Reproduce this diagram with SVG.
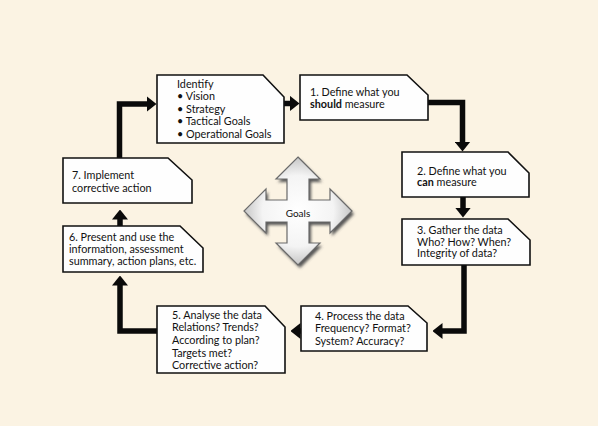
<svg xmlns="http://www.w3.org/2000/svg" width="598" height="426" viewBox="0 0 598 426">
<defs>
<style>
.box{fill:#fefefe;stroke:#111;stroke-width:1.6}
.t{font-family:Lato,"Open Sans",sans-serif;font-size:10.8px;fill:#111}
.b{font-weight:bold}
.con{fill:none;stroke:#0a0a0a;stroke-width:5.5;stroke-linejoin:miter}
</style>
<marker id="ah" viewBox="0 0 10 16" refX="0.5" refY="8" markerWidth="10" markerHeight="16" markerUnits="userSpaceOnUse" orient="auto">
<path d="M0,0 L10,8 L0,16 Z" fill="#0a0a0a"/>
</marker>
<radialGradient id="cg" cx="50%" cy="50%" r="55%">
<stop offset="0" stop-color="#ffffff"/>
<stop offset="0.6" stop-color="#f4f4f4"/>
<stop offset="1" stop-color="#b8b8b8"/>
</radialGradient>
<filter id="sh" x="-20%" y="-20%" width="140%" height="140%">
<feGaussianBlur stdDeviation="1.5"/>
</filter>
</defs>
<rect width="598" height="426" fill="#fbf3e3"/>

<g id="connectors">
<path class="con" d="M119.5,158 V104 H147" marker-end="url(#ah)"/>
<path class="con" d="M284,103.5 H290" marker-end="url(#ah)"/>
<path class="con" d="M428,102.5 H462.5 V142" marker-end="url(#ah)"/>
<path class="con" d="M463,197 V208" marker-end="url(#ah)"/>
<path class="con" d="M464,265 V331 H442" marker-end="url(#ah)"/>
<path class="con" d="M301,331 H300" marker-end="url(#ah)"/>
<path class="con" d="M157,331 H120 V285" marker-end="url(#ah)"/>
<path class="con" d="M120,226 V219" marker-end="url(#ah)"/>
</g>

<g id="goals">
<g transform="translate(298,211)">
<polygon transform="translate(2,3)" filter="url(#sh)" fill="#555" points="0,-54 22,-32 11,-32 11,-11 32,-11 32,-22 54,0 32,22 32,11 11,11 11,32 22,32 0,54 -22,32 -11,32 -11,11 -32,11 -32,22 -54,0 -32,-22 -32,-11 -11,-11 -11,-32 -22,-32"/>
<polygon fill="url(#cg)" stroke="#6a6a6a" stroke-width="1.2" points="0,-54 22,-32 11,-32 11,-11 32,-11 32,-22 54,0 32,22 32,11 11,11 11,32 22,32 0,54 -22,32 -11,32 -11,11 -32,11 -32,22 -54,0 -32,-22 -32,-11 -11,-11 -11,-32 -22,-32"/>
</g>
<text class="t" x="298" y="217" text-anchor="middle" style="font-size:10px">Goals</text>
</g>

<g id="identify">
<path class="box" d="M157,75 H263 L284,97 V143 H157 Z"/>
<text class="t" x="177" y="88">Identify</text>
<text class="t" x="177" y="100">• Vision</text>
<text class="t" x="177" y="112.5">• Strategy</text>
<text class="t" x="177" y="125">• Tactical Goals</text>
<text class="t" x="177" y="137.5">• Operational Goals</text>
</g>

<g id="n1">
<path class="box" d="M300,75 H407 L428,95 V120 H300 Z"/>
<text class="t" x="310" y="96">1. Define what you</text>
<text class="t" x="310" y="107.5"><tspan class="b">should</tspan> measure</text>
</g>

<g id="n2">
<path class="box" d="M402,152 H508 L529,173 V197 H402 Z"/>
<text class="t" x="417" y="174.5">2. Define what you</text>
<text class="t" x="417" y="186"><tspan class="b">can</tspan> measure</text>
</g>

<g id="n3">
<path class="box" d="M402,219 H508 L530,240 V265 H402 Z"/>
<text class="t" x="417" y="234">3. Gather the data</text>
<text class="t" x="417" y="245.5">Who? How? When?</text>
<text class="t" x="417" y="257">Integrity of data?</text>
</g>

<g id="n4">
<path class="box" d="M301,306 H408 L427,323 V351 H301 Z"/>
<text class="t" x="315" y="320">4. Process the data</text>
<text class="t" x="315" y="332">Frequency? Format?</text>
<text class="t" x="315" y="344.5">System? Accuracy?</text>
</g>

<g id="n5">
<path class="box" d="M157,306 H265 L285,327 V373 H157 Z"/>
<text class="t" x="172" y="319">5. Analyse the data</text>
<text class="t" x="172" y="331">Relations? Trends?</text>
<text class="t" x="172" y="344">According to plan?</text>
<text class="t" x="172" y="356.5">Targets met?</text>
<text class="t" x="172" y="369">Corrective action?</text>
</g>

<g id="n6">
<path class="box" d="M63,226 H180 L203,248 V272 H63 Z"/>
<text class="t" x="69" y="240.5">6. Present and use the</text>
<text class="t" x="69" y="252.5">information, assessment</text>
<text class="t" x="69" y="265">summary, action plans, etc.</text>
</g>

<g id="n7">
<path class="box" d="M63,158 H168 L192,180 V203 H63 Z"/>
<text class="t" x="72" y="179">7. Implement</text>
<text class="t" x="72" y="191.5">corrective action</text>
</g>
</svg>
